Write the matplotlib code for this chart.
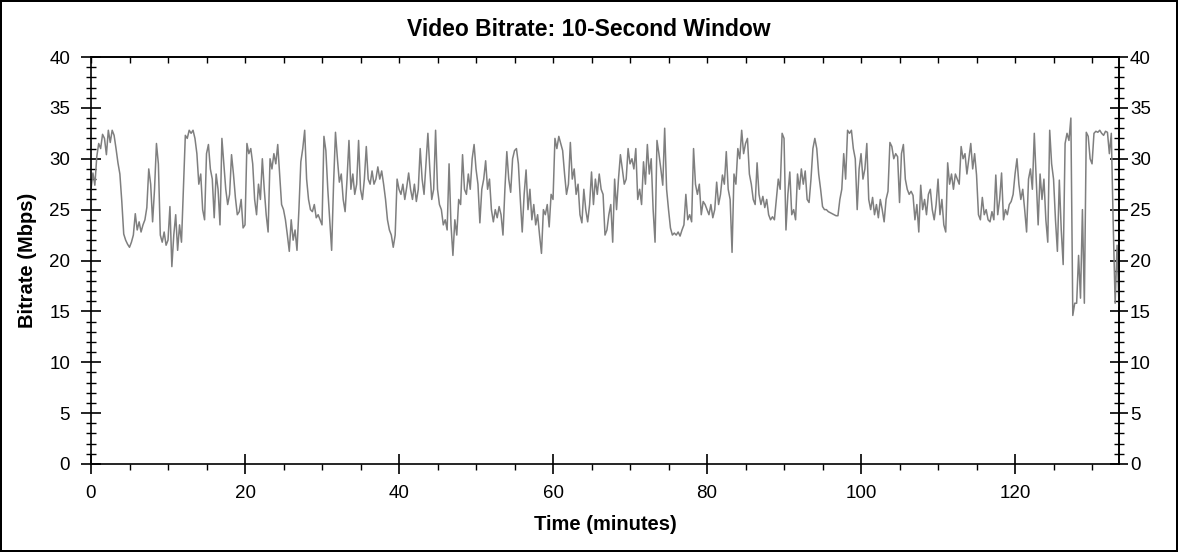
import numpy as np
import matplotlib
matplotlib.use("Agg")
import matplotlib.pyplot as plt
from matplotlib.ticker import MultipleLocator

plt.rcParams['font.family'] = ['Liberation Sans', 'DejaVu Sans']

title = "Video Bitrate: 10-Second Window"
x_label = "Time (minutes)"
y_label = "Bitrate (Mbps)"
sample_step_min = 0.25

# bitrate samples (Mbps), one every 0.25 min, each row = 5 minutes
bitrate_mbps = [
    27.0, 28.6, 27.4, 30.2, 31.5, 31.0, 32.4, 32.0, 30.4, 32.8, 31.6, 32.8, 32.3, 31.0, 29.6, 28.5, 25.8, 22.6, 22.0, 21.6,
    21.3, 21.8, 22.5, 24.6, 23.0, 23.8, 22.8, 23.5, 24.0, 25.2, 29.0, 27.5, 23.8, 27.0, 31.5, 29.5, 22.5, 21.8, 22.8, 21.5,
    22.0, 25.3, 19.4, 22.5, 24.5, 21.0, 23.5, 21.8, 27.0, 32.3, 32.0, 32.8, 32.5, 32.8, 32.0, 30.5, 27.5, 28.5, 25.0, 24.0,
    30.5, 31.4, 29.0, 28.0, 24.2, 28.5, 27.0, 23.5, 32.0, 29.5, 27.0, 25.5, 26.5, 30.4, 28.5, 26.2, 24.5, 24.8, 26.0, 23.2,
    23.5, 31.5, 30.5, 31.0, 29.5, 26.0, 24.5, 27.5, 26.0, 30.0, 27.0, 24.5, 22.8, 30.0, 29.0, 30.5, 29.5, 31.4, 28.5, 25.5,
    25.0, 24.0, 22.5, 20.9, 24.0, 22.0, 23.0, 21.0, 25.0, 29.7, 31.0, 32.8, 28.0, 26.0, 25.0, 24.8, 25.5, 24.2, 24.5, 24.0,
    23.5, 32.2, 30.8, 27.0, 24.0, 21.0, 27.5, 32.6, 30.0, 27.7, 28.5, 26.0, 24.8, 28.0, 31.8, 27.0, 28.5, 26.5, 27.5, 31.8,
    27.0, 26.0, 28.0, 31.2, 28.0, 27.5, 28.8, 27.5, 28.0, 29.2, 28.0, 28.8, 27.5, 26.0, 24.0, 23.0, 22.5, 21.3, 22.5, 28.0,
    27.0, 26.5, 27.5, 26.0, 27.2, 28.6, 27.0, 26.0, 27.5, 25.8, 27.0, 31.0, 28.0, 26.5, 29.5, 32.5, 29.0, 26.0, 27.0, 32.8,
    27.0, 25.5, 25.0, 23.5, 24.0, 23.0, 29.5, 23.5, 20.5, 24.0, 22.5, 26.0, 25.5, 30.4, 27.0, 26.5, 28.5, 27.0, 30.0, 31.4,
    29.0, 27.5, 23.7, 27.0, 28.0, 29.8, 27.0, 28.0, 25.0, 23.8, 25.0, 24.2, 25.3, 24.5, 22.5, 27.0, 30.7, 28.0, 26.7, 30.0,
    30.8, 31.0, 29.5, 26.0, 22.8, 26.5, 28.9, 25.0, 27.0, 24.0, 25.5, 23.5, 24.5, 22.5, 20.7, 25.0, 24.5, 25.5, 23.3, 26.5,
    26.0, 32.0, 31.0, 32.2, 31.5, 30.8, 28.5, 26.5, 27.5, 31.6, 28.0, 29.0, 26.5, 27.5, 24.5, 23.7, 27.0, 25.0, 23.8, 25.5,
    28.7, 25.5, 28.0, 26.5, 28.5, 27.0, 26.5, 22.5, 23.0, 24.5, 25.5, 21.8, 28.0, 25.0, 28.0, 30.4, 29.0, 27.5, 28.0, 31.0,
    29.5, 30.0, 29.0, 31.0, 26.0, 27.0, 25.5, 29.7, 27.5, 31.4, 28.5, 30.0, 25.0, 21.8, 31.8, 30.5, 29.0, 27.4, 33.0, 27.0,
    25.0, 23.2, 22.5, 22.7, 22.5, 22.8, 22.4, 23.0, 23.5, 26.5, 24.0, 24.5, 23.8, 31.0, 27.5, 26.5, 27.5, 24.5, 25.8, 25.5,
    25.0, 24.5, 25.5, 24.2, 25.0, 27.7, 25.5, 26.5, 28.4, 27.5, 30.7, 27.0, 26.0, 20.8, 28.5, 27.5, 31.0, 30.0, 32.8, 30.5,
    31.5, 32.0, 28.5, 27.5, 26.0, 25.5, 29.6, 26.5, 25.5, 26.3, 25.2, 26.0, 24.5, 24.0, 24.3, 24.0, 26.0, 28.0, 27.0, 32.5,
    32.0, 23.0, 26.5, 28.7, 24.5, 25.0, 24.0, 28.5, 27.0, 29.0, 27.5, 28.8, 26.0, 25.7, 28.0, 31.0, 32.0, 31.0, 28.5, 27.0,
    25.3, 25.0, 25.0, 24.8, 24.7, 24.6, 24.5, 24.4, 24.4, 26.0, 27.0, 30.5, 28.0, 32.8, 32.5, 32.8, 31.0, 30.0, 25.0, 29.0,
    30.5, 28.0, 29.0, 31.5, 26.0, 25.0, 26.2, 24.5, 25.5, 24.2, 26.0, 25.0, 23.8, 26.0, 26.8, 31.6, 31.2, 30.0, 30.5, 30.2,
    25.7, 30.5, 31.4, 28.0, 27.0, 26.5, 26.8, 26.4, 24.0, 25.5, 22.8, 27.4, 25.0, 26.0, 24.5, 26.5, 27.0, 25.0, 24.0, 25.5,
    28.0, 24.5, 26.0, 23.5, 22.8, 29.6, 27.5, 28.5, 27.0, 28.5, 28.0, 27.5, 31.2, 30.0, 30.5, 28.5, 30.0, 31.5, 29.0, 30.5,
    28.4, 24.5, 24.0, 26.2, 24.5, 25.0, 24.0, 23.8, 24.8, 24.0, 28.4, 24.5, 26.0, 28.6, 24.0, 25.0, 24.5, 25.5, 25.8, 26.5,
    28.5, 30.0, 27.5, 26.0, 27.0, 25.0, 22.8, 28.0, 29.0, 27.0, 32.5, 28.0, 23.5, 28.5, 26.0, 28.0, 24.0, 21.8, 32.8, 29.5,
    28.0, 24.0, 20.9, 27.9, 23.0, 19.6, 31.5, 32.5, 31.8, 34.0, 14.6, 15.8, 15.8, 20.5, 16.3, 25.0, 15.8, 32.6, 32.2, 30.0,
    29.5, 32.5, 32.7, 32.6, 32.8, 32.5, 32.3, 32.7, 32.6, 30.5, 32.5, 23.5, 15.8, 21.5, 15.5,
]
time_min = np.arange(len(bitrate_mbps)) * sample_step_min

x_max = 133.5
y_max = 40

W, H = 1178, 552
fig = plt.figure(figsize=(W / 100, H / 100), dpi=100, facecolor='white',
                 edgecolor='black', linewidth=1.5)
left, right, top, bottom = 91, 1119, 57, 464
ax = fig.add_axes([left / W, 1 - bottom / H, (right - left) / W, (bottom - top) / H])

ax.plot(time_min, bitrate_mbps, color='#7f7f7f', linewidth=1.1)

ax.set_xlim(0, x_max)
ax.set_ylim(0, y_max)

for s in ax.spines.values():
    s.set_linewidth(1.2)
    s.set_color('black')

ax.xaxis.set_major_locator(MultipleLocator(20))
ax.xaxis.set_minor_locator(MultipleLocator(5))
ax.yaxis.set_major_locator(MultipleLocator(5))
ax.yaxis.set_minor_locator(MultipleLocator(1))

ax.tick_params(axis='both', which='major', direction='inout', length=15, width=1.2,
               labelsize=13.5, colors='black')
ax.tick_params(axis='x', which='major', pad=7.5)
ax.tick_params(axis='y', which='major', pad=7.5)
ax.tick_params(axis='y', which='minor', direction='inout', length=7, width=1.0)
ax.tick_params(axis='x', which='minor', direction='out', length=4, width=1.0)

# right axis with labels
secy = ax.secondary_yaxis('right')
secy.yaxis.set_major_locator(MultipleLocator(5))
secy.yaxis.set_minor_locator(MultipleLocator(1))
secy.tick_params(which='major', direction='inout', length=13, width=1.2, labelsize=13.5, pad=1.5)
secy.tick_params(which='minor', direction='inout', length=7, width=1.0)
secy.spines['right'].set_linewidth(1.2)

# top axis ticks only
secx = ax.secondary_xaxis('top')
secx.xaxis.set_major_locator(MultipleLocator(5))
secx.tick_params(which='major', direction='in', length=4, width=1.0, labeltop=False)
secx.spines['top'].set_linewidth(1.2)

ax.set_xlabel(x_label, fontsize=14.5, fontweight='bold', va='center')
ax.xaxis.set_label_coords(0.5, (bottom - 524) / (bottom - top))
ax.set_ylabel(y_label, fontsize=14.5, fontweight='bold', va='center')
ax.yaxis.set_label_coords((28 - left) / (right - left), 0.5)

fig.text(589 / W, 1 - 29 / H, title, ha='center', va='center', fontsize=16.5, fontweight='bold')

fig.savefig('out.png', dpi=100, facecolor='white', edgecolor='black')
